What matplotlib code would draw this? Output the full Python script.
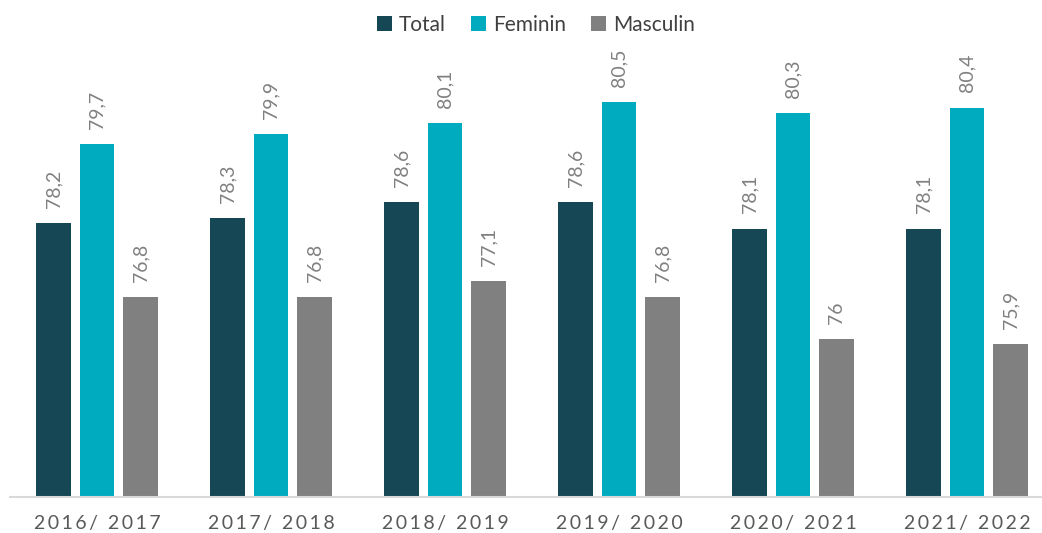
import matplotlib
matplotlib.use("Agg")
import matplotlib.pyplot as plt
import numpy as np
from matplotlib.patches import Patch

categories = ["2016/ 2017", "2017/ 2018", "2018/ 2019", "2019/ 2020", "2020/ 2021", "2021/ 2022"]
total = [78.2, 78.3, 78.6, 78.6, 78.1, 78.1]
feminin = [79.7, 79.9, 80.1, 80.5, 80.3, 80.4]
masculin = [76.8, 76.8, 77.1, 76.8, 76.0, 75.9]
series_names = ["Total", "Feminin", "Masculin"]
colors = ["#154754", "#00ABC0", "#808080"]

plt.rcParams['font.family'] = ['Lato', 'DejaVu Sans']

W, H = 1042, 533
fig = plt.figure(figsize=(W/100, H/100), dpi=100)
left_px, bottom_px, top_px = 10, 497, 76
ax = fig.add_axes([left_px/W, (H-bottom_px)/H, (W-left_px)/W, (bottom_px-top_px)/H])

x = np.arange(len(categories))
group_px = 174.0
right_data = -0.5 + (W - left_px)/group_px
ax.set_xlim(-0.5, right_data)
ax.set_ylim(73, 81)

offsets = [-0.25, 0.0, 0.25]
width = 0.2
for vals, off, col, name in zip([total, feminin, masculin], offsets, colors, series_names):
    ax.bar(x + off, vals, width=width, color=col, label=name, zorder=2)
    for xi, v in zip(x + off, vals):
        lab = f"{v:g}".replace(".", ",")
        ax.annotate(lab, (xi, v), xytext=(0, 11), textcoords="offset points",
                    rotation=90, ha="center", va="bottom", fontsize=14, color="#808080")

for s in ["top", "right", "left"]:
    ax.spines[s].set_visible(False)
ax.spines["bottom"].set_color("#D9D9D9")
ax.spines["bottom"].set_linewidth(1.5)
ax.set_yticks([])
ax.set_xticks(x)
spaced = ["\u2009".join(list(c)) for c in categories]
ax.set_xticklabels(spaced, fontsize=14, color="#595959")
ax.tick_params(axis="x", length=0, pad=13)

handles = [Patch(facecolor=c, label=n) for c, n in zip(colors, series_names)]
fig.legend(handles=handles, loc="center", bbox_to_anchor=(536/W, 1 - 25/H), ncol=3,
           frameon=False, fontsize=15, handlelength=0.7, handleheight=0.7,
           handletextpad=0.35, columnspacing=1.2, labelcolor="#404040")

fig.savefig("out.png", dpi=100)
